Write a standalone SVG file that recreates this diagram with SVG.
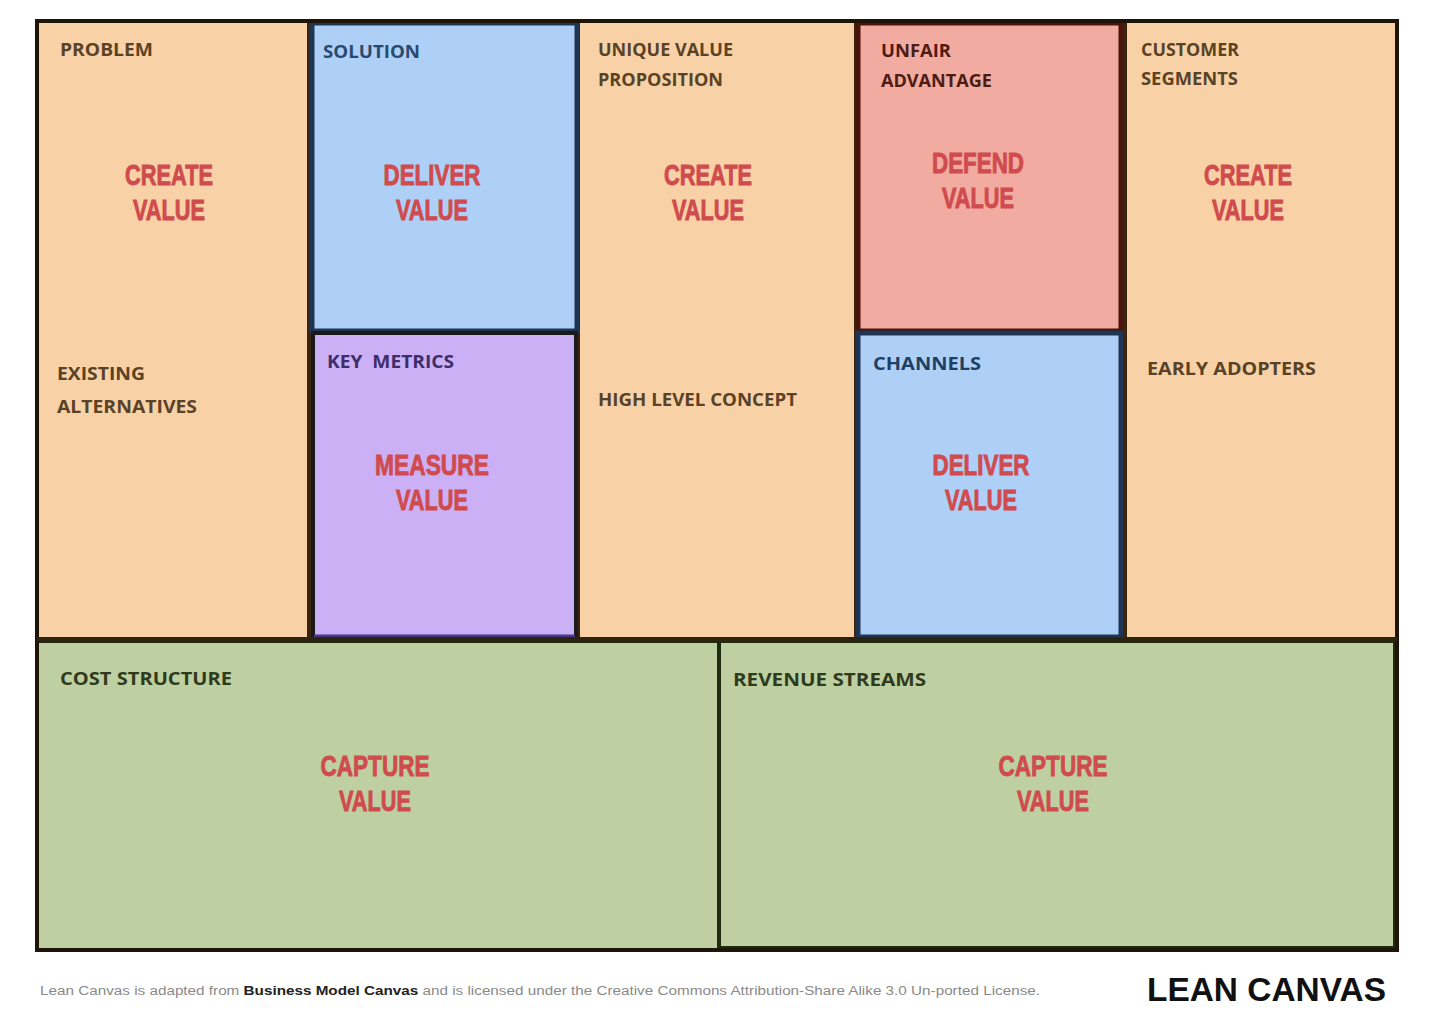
<svg xmlns="http://www.w3.org/2000/svg" width="1440" height="1025" viewBox="0 0 1440 1025">
<style>
.org{fill:#f8d2a6;stroke:#3a2410;stroke-width:4}
.blu{fill:#aed0f7;stroke:#1e3553;stroke-width:5}
.pur{fill:#ccb0f6;stroke:#1a1a1a;stroke-width:4}
.red{fill:#f2aba0;stroke:#4a140c;stroke-width:5}
.grn{fill:#bed0a2;stroke:#1f2a10;stroke-width:4}
.lbl{font-family:"Open Sans","Liberation Sans",sans-serif;font-weight:700;font-size:17px;fill:#5a4227}
.big{font-family:"Liberation Sans",Arial,sans-serif;font-weight:700;font-size:30px;fill:#d04b4e;stroke:#d04b4e;stroke-width:0.9;text-anchor:middle}
.foot{font-family:"Liberation Sans",Arial,sans-serif;font-size:12px;fill:#8a8a8a}
</style>
<rect x="0" y="0" width="1440" height="1025" fill="#ffffff"/>

<g id="problem">
<rect class="org" x="37" y="21" width="272" height="618"/>
<text class="lbl" x="60" y="56" textLength="93" lengthAdjust="spacingAndGlyphs">PROBLEM</text>
<text class="big" x="169" y="185" textLength="88" lengthAdjust="spacingAndGlyphs">CREATE</text>
<text class="big" x="169" y="220" textLength="72" lengthAdjust="spacingAndGlyphs">VALUE</text>
<text class="lbl" x="57" y="380" textLength="88" lengthAdjust="spacingAndGlyphs">EXISTING</text>
<text class="lbl" x="57" y="413" textLength="140" lengthAdjust="spacingAndGlyphs">ALTERNATIVES</text>
</g>

<g id="uvp">
<rect class="org" x="578" y="21" width="278" height="618"/>
<text class="lbl" x="598" y="56" textLength="135" lengthAdjust="spacingAndGlyphs">UNIQUE VALUE</text>
<text class="lbl" x="598" y="86" textLength="125" lengthAdjust="spacingAndGlyphs">PROPOSITION</text>
<text class="big" x="708" y="185" textLength="88" lengthAdjust="spacingAndGlyphs">CREATE</text>
<text class="big" x="708" y="220" textLength="72" lengthAdjust="spacingAndGlyphs">VALUE</text>
<text class="lbl" x="598" y="406" textLength="199" lengthAdjust="spacingAndGlyphs">HIGH LEVEL CONCEPT</text>
</g>

<g id="customer-segments">
<rect class="org" x="1125" y="21" width="272" height="618"/>
<text class="lbl" x="1141" y="56" textLength="98" lengthAdjust="spacingAndGlyphs">CUSTOMER</text>
<text class="lbl" x="1141" y="85" textLength="97" lengthAdjust="spacingAndGlyphs">SEGMENTS</text>
<text class="big" x="1248" y="185" textLength="88" lengthAdjust="spacingAndGlyphs">CREATE</text>
<text class="big" x="1248" y="220" textLength="72" lengthAdjust="spacingAndGlyphs">VALUE</text>
<text class="lbl" x="1147" y="375" textLength="169" lengthAdjust="spacingAndGlyphs">EARLY ADOPTERS</text>
</g>

<g id="solution">
<rect class="blu" x="312" y="23" width="265" height="308"/>
<text class="lbl" x="323" y="58" textLength="97" lengthAdjust="spacingAndGlyphs" style="fill:#2a4a6e">SOLUTION</text>
<text class="big" x="432" y="185" textLength="97" lengthAdjust="spacingAndGlyphs">DELIVER</text>
<text class="big" x="432" y="220" textLength="72" lengthAdjust="spacingAndGlyphs">VALUE</text>
</g>

<g id="key-metrics">
<rect class="pur" x="313" y="333" width="263" height="304"/>
<line x1="314" y1="637" x2="575" y2="637" stroke="#4a3585" stroke-width="5"/>
<text class="lbl" x="327" y="368" textLength="127" lengthAdjust="spacingAndGlyphs" style="fill:#3d2d6a;white-space:pre" xml:space="preserve">KEY  METRICS</text>
<text class="big" x="432" y="475" textLength="114" lengthAdjust="spacingAndGlyphs">MEASURE</text>
<text class="big" x="432" y="510" textLength="72" lengthAdjust="spacingAndGlyphs">VALUE</text>
</g>

<g id="unfair-advantage">
<rect class="red" x="858" y="23" width="263" height="308"/>
<text class="lbl" x="881" y="57" textLength="70" lengthAdjust="spacingAndGlyphs" style="fill:#4e1c12">UNFAIR</text>
<text class="lbl" x="881" y="87" textLength="111" lengthAdjust="spacingAndGlyphs" style="fill:#4e1c12">ADVANTAGE</text>
<text class="big" x="978" y="173" textLength="92" lengthAdjust="spacingAndGlyphs">DEFEND</text>
<text class="big" x="978" y="208" textLength="72" lengthAdjust="spacingAndGlyphs">VALUE</text>
</g>

<g id="channels">
<rect class="blu" x="858" y="333" width="263" height="304"/>
<text class="lbl" x="873" y="370" textLength="108" lengthAdjust="spacingAndGlyphs" style="fill:#1f3f63">CHANNELS</text>
<text class="big" x="981" y="475" textLength="97" lengthAdjust="spacingAndGlyphs">DELIVER</text>
<text class="big" x="981" y="510" textLength="72" lengthAdjust="spacingAndGlyphs">VALUE</text>
</g>

<g id="cost-structure">
<rect class="grn" x="37" y="641" width="682" height="309"/>
<text class="lbl" x="60" y="685" textLength="172" lengthAdjust="spacingAndGlyphs" style="fill:#2e3b1c">COST STRUCTURE</text>
<text class="big" x="375" y="776" textLength="109" lengthAdjust="spacingAndGlyphs">CAPTURE</text>
<text class="big" x="375" y="811" textLength="72" lengthAdjust="spacingAndGlyphs">VALUE</text>
</g>

<g id="revenue-streams">
<rect class="grn" x="719" y="641" width="676" height="307"/>
<text class="lbl" x="733" y="686" textLength="193" lengthAdjust="spacingAndGlyphs" style="fill:#2e3b1c">REVENUE STREAMS</text>
<text class="big" x="1053" y="776" textLength="109" lengthAdjust="spacingAndGlyphs">CAPTURE</text>
<text class="big" x="1053" y="811" textLength="72" lengthAdjust="spacingAndGlyphs">VALUE</text>
</g>

<g id="frame">
<rect x="37" y="21" width="1360" height="929" fill="none" stroke="#1e1408" stroke-width="4"/>
<line x1="37" y1="639" x2="1397" y2="639" stroke="#2a2410" stroke-width="4"/>
</g>

<g id="footer">
<text class="foot" x="40" y="995" textLength="1000" lengthAdjust="spacingAndGlyphs">Lean Canvas is adapted from <tspan font-weight="700" fill="#222">Business Model Canvas</tspan> and is licensed under the Creative Commons Attribution-Share Alike 3.0 Un-ported License.</text>
<text x="1147" y="1001" font-family="Liberation Sans,Arial,sans-serif" font-weight="700" font-size="33" fill="#111" textLength="239" lengthAdjust="spacingAndGlyphs">LEAN CANVAS</text>
</g>
</svg>
